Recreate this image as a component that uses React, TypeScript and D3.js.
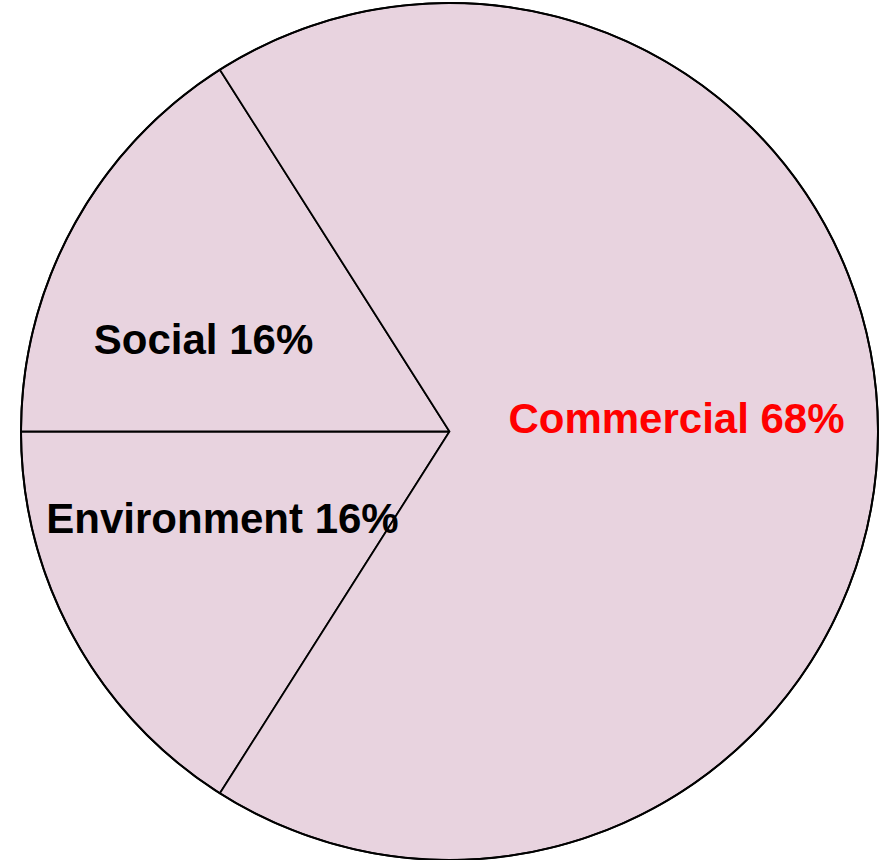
import React from "react";
import * as d3 from "d3";

const categories = ["Environment", "Social", "Commercial"];
const shares = [16, 16, 68];
const labelColors = ["#000000", "#000000", "#ff0000"];

// layout constants (label anchors relative to pie centre, text centre / baseline)
const labelOffsets: [number, number][] = [
  [-227, 101],
  [-246, -78],
  [227, 1],
];

const W = 885;
const H = 860;
const CX = 449.5;
const CY = 431.5;
const R = 428.5;

export default function App() {
  const data = categories.map((c, i) => ({ name: c, value: shares[i] }));
  const envFrac = shares[0] / d3.sum(shares);
  const start = -Math.PI / 2 - envFrac * 2 * Math.PI;
  const pie = d3
    .pie<{ name: string; value: number }>()
    .sort(null)
    .value((d) => d.value)
    .startAngle(start)
    .endAngle(start + 2 * Math.PI);
  const arcs = pie(data);
  const arc = d3
    .arc<d3.PieArcDatum<{ name: string; value: number }>>()
    .innerRadius(0)
    .outerRadius(R);

  return (
    <svg
      width={W}
      height={H}
      style={{ position: "absolute", left: 0, top: 0, background: "#fff" }}
    >
      <g transform={`translate(${CX},${CY})`}>
        {arcs.map((a, i) => (
          <path
            key={i}
            d={arc(a) || ""}
            fill="#e8d3df"
            stroke="#000"
            strokeWidth={1.8}
            strokeLinejoin="miter"
          />
        ))}
        <circle r={R} fill="none" stroke="#000" strokeWidth={2} />
        {arcs.map((a, i) => (
          <text
            key={"t" + i}
            x={labelOffsets[i][0]}
            y={labelOffsets[i][1]}
            textAnchor="middle"
            fontFamily="'Liberation Sans', Arial, sans-serif"
            fontWeight="bold"
            fontSize={42}
            fill={labelColors[i]}
          >
            {`${a.data.name} ${a.data.value}%`}
          </text>
        ))}
      </g>
    </svg>
  );
}
